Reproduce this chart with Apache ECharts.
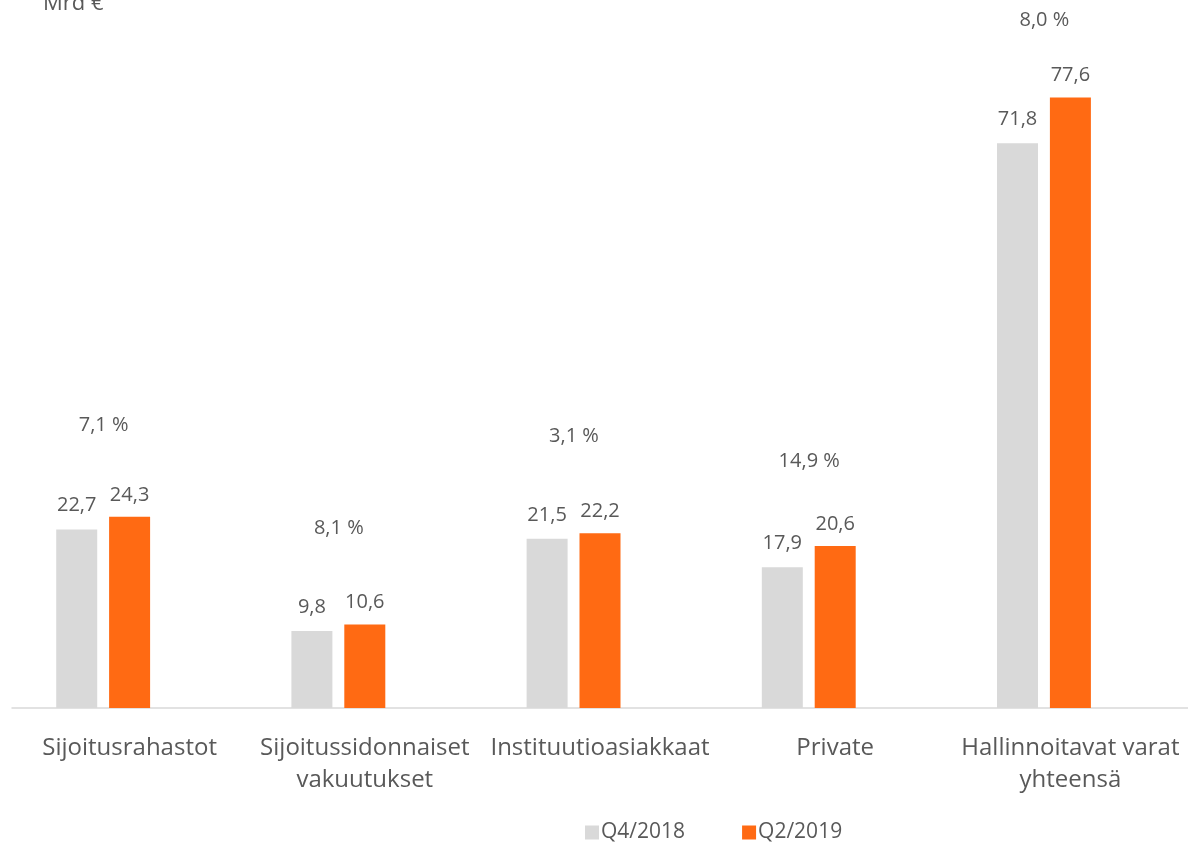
<!DOCTYPE html>
<html>
<head>
<meta charset="utf-8">
<script src="https://cdn.jsdelivr.net/npm/echarts@6/dist/echarts.min.js"></script>
<style>
html,body{margin:0;padding:0;background:#fff;}
#chart{width:1188px;height:843px;}
</style>
</head>
<body>
<div id="chart"></div>
<script>
const categories = ['Sijoitusrahastot', 'Sijoitussidonnaiset\nvakuutukset', 'Instituutioasiakkaat', 'Private', 'Hallinnoitavat varat\nyhteensä'];
const seriesNames = ['Q4/2018', 'Q2/2019'];
const q4_2018 = [22.7, 9.8, 21.5, 17.9, 71.8];
const q2_2019 = [24.3, 10.6, 22.2, 20.6, 77.6];
const changeLabels = ['7,1 %', '8,1 %', '3,1 %', '14,9 %', '8,0 %'];
const changeLabelLevel = [35.9, 22.8, 34.5, 31.3, 87.4];
const unitLabel = 'Mrd €';

const FONT = "'Open Sans', 'Noto Sans', sans-serif";
const TEXT = '#595959';
const fmt = v => String(v.toFixed(1)).replace('.', ',');

const chart = echarts.init(document.getElementById('chart'), null, {renderer: 'canvas'});
chart.setOption({
  animation: false,
  backgroundColor: '#fff',
  title: {
    text: unitLabel,
    left: 38, top: -12,
    textStyle: {fontFamily: FONT, fontSize: 22, fontWeight: 'normal', color: TEXT}
  },
  legend: {
    data: seriesNames,
    bottom: -5, left: 580,
    itemWidth: 14, itemHeight: 14, itemGap: 57,
    icon: 'rect',
    textStyle: {fontFamily: FONT, fontSize: 21, color: TEXT, padding: [0, 0, 0, -3]}
  },
  grid: {left: 12, right: -4, top: -2, bottom: 135, containLabel: false},
  xAxis: {
    type: 'category',
    data: categories,
    axisLine: {lineStyle: {color: '#d9d9d9', width: 1.5}},
    axisTick: {show: false},
    axisLabel: {fontFamily: FONT, fontSize: 24, color: TEXT, margin: 24, lineHeight: 32, interval: 0}
  },
  yAxis: {
    type: 'value', min: 0, max: 90, show: false,
    splitLine: {show: false}
  },
  series: [
    {
      name: seriesNames[0], type: 'bar', data: q4_2018,
      barWidth: 41, barGap: '29%',
      itemStyle: {color: '#d9d9d9'},
      label: {show: true, position: 'top', distance: 14, formatter: p => fmt(p.value),
        fontFamily: FONT, fontSize: 20, color: TEXT}
    },
    {
      name: seriesNames[1], type: 'bar', data: q2_2019,
      barWidth: 41, barGap: '29%',
      itemStyle: {color: '#ff6a13'},
      label: {show: true, position: 'top', distance: 12, formatter: p => fmt(p.value),
        fontFamily: FONT, fontSize: 20, color: TEXT}
    },
    {
      name: 'spacer', type: 'bar', data: categories.map(() => null),
      barWidth: 41, barGap: '29%', itemStyle: {color: 'transparent'}
    },
    {
      name: 'change', type: 'scatter', symbolSize: 0, clip: false,
      data: changeLabelLevel,
      itemStyle: {opacity: 1},
      label: {show: true, position: 'inside', offset: [-26, 0],
        formatter: p => changeLabels[p.dataIndex],
        fontFamily: FONT, fontSize: 20, color: TEXT}
    }
  ]
});
</script>
</body>
</html>
